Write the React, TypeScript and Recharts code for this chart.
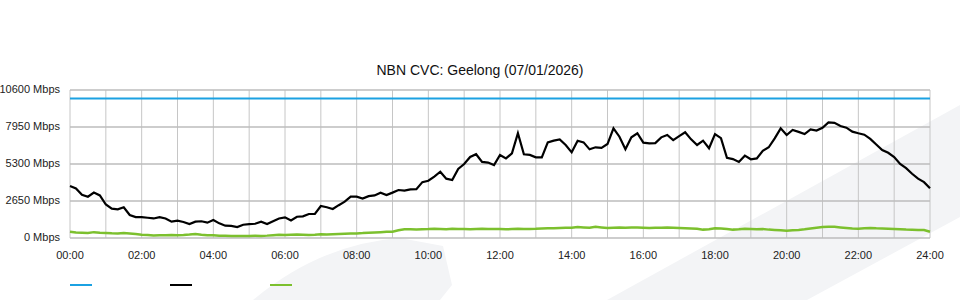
import { LineChart, Line, XAxis, YAxis, CartesianGrid, Legend } from 'recharts';

// Traffic for the day, 10-minute samples from 00:00 to 24:00 (Mbps)
const UTILISATION = [
  3720, 3550, 3100, 2960, 3250, 3050,
  2400, 2100, 2050, 2200, 1650, 1500,
  1500, 1450, 1400, 1500, 1400, 1170,
  1240, 1150, 1000, 1170, 1200, 1100,
  1290, 1050, 880, 870, 780, 950,
  1000, 1020, 1170, 1000, 1200, 1400,
  1480, 1250, 1525, 1550, 1720, 1720,
  2290, 2200, 2076, 2350, 2600, 2960,
  2960, 2820, 3000, 3050, 3245, 3080,
  3250, 3437, 3400, 3485, 3500, 4000,
  4100, 4400, 4750, 4250, 4150, 4950,
  5300, 5800, 6000, 5450, 5400, 5225,
  5945, 5700, 6065, 7500, 6000, 5950,
  5780, 5780, 6850, 6970, 7065, 6660,
  6135, 6970, 6850, 6350, 6495, 6450,
  6730, 7855, 7255, 6350, 7210, 7500,
  6825, 6780, 6800, 7210, 7375, 7015,
  7300, 7570, 7065, 6660, 6970, 6425,
  7445, 7150, 5750, 5650, 5450, 5900,
  5640, 5700, 6250, 6500, 7135, 7855,
  7375, 7735, 7600, 7445, 7785, 7700,
  7900, 8285, 8250, 8020, 7900, 7615,
  7500, 7400, 7100, 6700, 6300, 6100,
  5800, 5300, 5000, 4600, 4250, 4000,
  3560,
];

const UPLOAD = [
  450, 400, 380, 360, 420, 380,
  360, 340, 330, 360, 320, 280,
  240, 220, 180, 190, 200, 210,
  200, 220, 250, 290, 240, 200,
  190, 170, 160, 150, 140, 150,
  150, 160, 150, 170, 200, 230,
  220, 240, 250, 230, 210, 230,
  260, 250, 270, 290, 310, 320,
  330, 350, 380, 400, 420, 440,
  450, 560, 630, 620, 610, 630,
  640, 660, 650, 630, 660, 640,
  650, 620, 640, 660, 640, 650,
  640, 620, 640, 660, 640, 650,
  660, 680, 700, 690, 720, 740,
  730, 780, 760, 740, 800, 760,
  720, 740, 760, 740, 760, 750,
  740, 720, 740, 730, 760, 740,
  720, 700, 680, 660, 600, 620,
  690, 680, 640, 600, 620, 660,
  640, 620, 640, 600, 580, 560,
  520, 560, 580, 620, 680, 740,
  780, 800, 800, 760, 720, 680,
  660, 700, 720, 690, 680, 660,
  640, 620, 600, 590, 580, 570,
  450,
];

const CVC_CAPACITY = 10000;
const Y_TICKS = [0, 2650, 5300, 7950, 10600];
const HOUR_TICKS = [
  0, 60, 120, 180, 240, 300, 360, 420, 480, 540, 600, 660, 720,
  780, 840, 900, 960, 1020, 1080, 1140, 1200, 1260, 1320, 1380, 1440,
];

const COLORS = { capacity: '#1ba1e2', traffic: '#000000', upload: '#7cc02e' };
const FONT = '"Liberation Sans", Arial, sans-serif';

const data = UTILISATION.map((v, i) => ({
  minute: i * 10,
  capacity: CVC_CAPACITY,
  traffic: v,
  upload: UPLOAD[i],
}));

const formatHour = (m: number) => {
  if (m % 120 !== 0) return '';
  const h = m / 60;
  return `${h < 10 ? '0' : ''}${h}:00`;
};

// plain svg text so the labels don't get wrapped
const YTick = ({ x, y, payload }: any) => (
  <text x={x - 2} y={y} dy={3} textAnchor="end" fontSize={11} fill="#222" fontFamily={FONT}>
    {`${payload.value} Mbps`}
  </text>
);

const XTick = ({ x, y, payload }: any) => (
  <text x={x} y={y} dy={11} textAnchor="middle" fontSize={11} fill="#222" fontFamily={FONT}>
    {formatHour(payload.value)}
  </text>
);

const LegendLines = ({ payload }: any) => (
  <div style={{ display: 'flex' }}>
    {(payload || []).map((p: any) => (
      <div key={p.dataKey} style={{ width: 100 }}>
        <div style={{ width: 22, height: 2, background: p.color }} />
      </div>
    ))}
  </div>
);

export default function App() {
  return (
    <div style={{ position: 'absolute', left: 0, top: 0, width: 960, height: 300, background: '#fff', fontFamily: FONT }}>
      {/* faint background artwork */}
      <svg width={960} height={300} style={{ position: 'absolute', left: 0, top: 0 }}>
        <path d="M253,300 Q320,244 400,238 L443,246 L452,285 L440,300 Z" fill="#f3f4f6" />
        <path d="M607,300 L960,105 L960,217 L807,300 Z" fill="#f3f4f6" />
      </svg>
      <div style={{ position: 'absolute', left: 0, width: 960, top: 62, textAlign: 'center', fontSize: 14, color: '#111' }}>
        NBN CVC: Geelong (07/01/2026)
      </div>
      <div style={{ position: 'absolute', left: 0, top: 0 }}>
        <LineChart width={960} height={300} data={data} margin={{ top: 90, right: 30, left: 0, bottom: 32 }}>
          <CartesianGrid stroke="#c6c6c6" strokeWidth={1} horizontal={false} />
          <CartesianGrid stroke="#bdbdbd" strokeWidth={1.6} vertical={false} />
          <XAxis
            dataKey="minute"
            type="number"
            domain={[0, 1440]}
            ticks={HOUR_TICKS}
            tick={<XTick />}
            tickLine={false}
            axisLine={false}
            tickMargin={4}
            height={30}
            interval={0}
          />
          <YAxis
            domain={[0, 10600]}
            ticks={Y_TICKS}
            tick={<YTick />}
            tickLine={false}
            axisLine={false}
            width={70}
            interval={0}
          />
          <Legend
            verticalAlign="middle"
            align="center"
            layout="horizontal"
            content={<LegendLines />}
            wrapperStyle={{ position: 'absolute', left: 70, top: 284, width: 400 }}
          />
          <Line dataKey="capacity" stroke={COLORS.capacity} strokeWidth={2} dot={false} isAnimationActive={false} />
          <Line dataKey="traffic" stroke={COLORS.traffic} strokeWidth={2.2} dot={false} isAnimationActive={false} />
          <Line dataKey="upload" stroke={COLORS.upload} strokeWidth={2.5} dot={false} isAnimationActive={false} />
        </LineChart>
      </div>
    </div>
  );
}
